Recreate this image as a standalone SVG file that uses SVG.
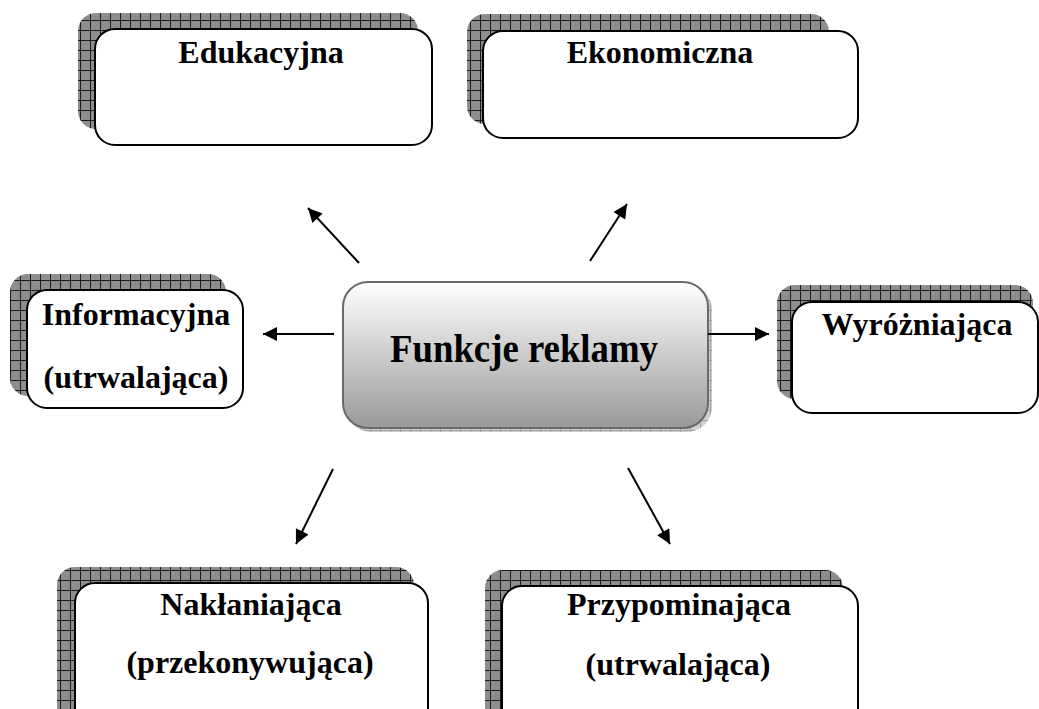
<svg xmlns="http://www.w3.org/2000/svg" width="1039" height="709" viewBox="0 0 1039 709">
<defs>
<pattern id="grid" width="10" height="10" patternUnits="userSpaceOnUse">
<rect width="10" height="10" fill="#8e8e8e"/>
<path d="M0 0.5H10M0.5 0V10" stroke="#1a1a1a" stroke-width="1"/>
</pattern>
<pattern id="gridLight" width="10" height="10" patternUnits="userSpaceOnUse">
<rect width="10" height="10" fill="#d0d0d0"/>
<path d="M0 0.5H10M0.5 0V10" stroke="#a0a0a0" stroke-width="1"/>
</pattern>
<linearGradient id="cg" x1="0" y1="0" x2="0" y2="1">
<stop offset="0" stop-color="#ffffff"/>
<stop offset="1" stop-color="#999999"/>
</linearGradient>
<marker id="ah" viewBox="0 0 10 10" refX="10" refY="5" markerWidth="7.5" markerHeight="7" orient="auto" markerUnits="strokeWidth">
<path d="M0 0L10 5L0 10Z" fill="#000"/>
</marker>
</defs>
<style>
.sh{fill:url(#grid)}
.box{fill:#fff;stroke:#000;stroke-width:2}
.t{font-family:"Liberation Serif","Times New Roman",serif;font-weight:bold;font-size:32px;fill:#000;text-anchor:middle}
.c{stroke:#000;stroke-width:2;fill:none;marker-end:url(#ah)}
</style>
<rect width="1039" height="709" fill="#fff"/>

<g id="edukacyjna">
<rect class="sh" x="78" y="13" width="340" height="116" rx="18"/>
<rect class="box" x="95" y="29" width="337" height="116" rx="20"/>
<text class="t" x="261" y="63">Edukacyjna</text>
</g>

<g id="ekonomiczna">
<rect class="sh" x="467" y="14" width="362" height="110" rx="18"/>
<rect class="box" x="483" y="31" width="375" height="107" rx="20"/>
<text class="t" x="660" y="63">Ekonomiczna</text>
</g>

<g id="informacyjna">
<rect class="sh" x="10" y="274" width="216" height="122" rx="18"/>
<rect class="box" x="27" y="290" width="216" height="118" rx="20"/>
<text class="t" x="136" y="325">Informacyjna</text>
<text class="t" x="136" y="388">(utrwalająca)</text>
</g>

<g id="wyrozniajaca">
<rect class="sh" x="777" y="285" width="256" height="114" rx="18"/>
<rect class="box" x="792" y="302" width="246" height="111" rx="20"/>
<text class="t" x="917" y="335">Wyróżniająca</text>
</g>

<g id="naklaniajaca">
<rect class="sh" x="57" y="567" width="357" height="160" rx="18"/>
<rect class="box" x="75" y="583" width="353" height="160" rx="20"/>
<text class="t" x="251" y="615">Nakłaniająca</text>
<text class="t" x="250" y="673">(przekonywująca)</text>
</g>

<g id="przypominajaca">
<rect class="sh" x="485" y="570" width="358" height="160" rx="18"/>
<rect class="box" x="502" y="586" width="356" height="160" rx="20"/>
<text class="t" x="679" y="615">Przypominająca</text>
<text class="t" x="678" y="675">(utrwalająca)</text>
</g>

<g id="funkcje">
<rect x="346" y="285" width="366" height="147" rx="25" fill="url(#gridLight)"/>
<rect x="343" y="282" width="365" height="146" rx="25" fill="url(#cg)" stroke="#6a6a6a" stroke-width="2"/>
<text class="t" x="524" y="362" style="font-size:40px" textLength="268" lengthAdjust="spacingAndGlyphs">Funkcje reklamy</text>
</g>

<g id="connectors">
<line class="c" x1="359" y1="263" x2="308" y2="208"/>
<line class="c" x1="590" y1="261" x2="627" y2="204"/>
<line class="c" x1="334" y1="334" x2="263" y2="334"/>
<line class="c" x1="708" y1="334" x2="769" y2="334"/>
<line class="c" x1="333" y1="469" x2="296" y2="544"/>
<line class="c" x1="628" y1="468" x2="670" y2="544"/>
</g>
</svg>
